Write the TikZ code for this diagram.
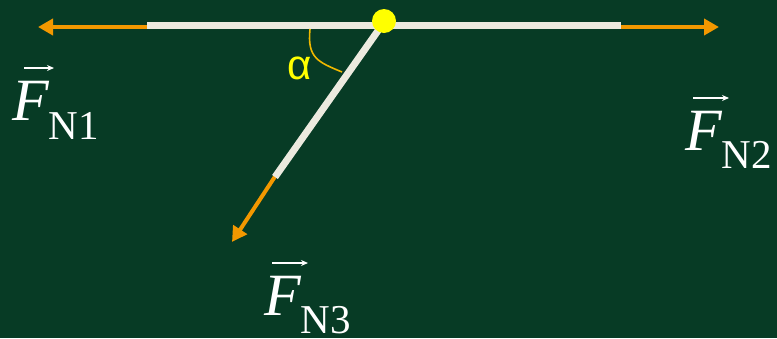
\documentclass[tikz,border=0pt]{standalone}
\usepackage{fontspec}
\setmainfont{Liberation Serif}
\newfontfamily\alphafont{Liberation Sans}
\usetikzlibrary{arrows.meta}
\definecolor{board}{HTML}{073B25}
\definecolor{rod}{HTML}{ECEADF}
\definecolor{force}{HTML}{F39800}
\definecolor{joint}{HTML}{FFFF00}
\definecolor{arcc}{HTML}{F0B800}
\tikzset{
  rodline/.style={draw=rod, line width=7pt},
  forcearrow/.style={draw=force, line width=4pt, -{Triangle[length=15pt,width=16pt]}},
  vecarrow/.style={draw=white, line width=1.3pt, -{Stealth[length=7pt,width=6pt]}},
  flabel/.style={anchor=base west, inner sep=0pt, text=white},
}
\newcommand{\forcelabel}[2]{{\fontsize{60}{60}\selectfont\itshape F}{\fontsize{41}{41}\selectfont\raisebox{-#1pt}{#2}}}
\begin{document}
\begin{tikzpicture}[x=1pt,y=-1pt]
\fill[board] (0,0) rectangle (777,338);
\useasboundingbox (0,0) rectangle (777,338);
% points
\coordinate (J) at (382,25);
\coordinate (L) at (147,25);
\coordinate (R) at (621,25);
\coordinate (D) at (275,177);
\coordinate (Lo) at (149,27);
\coordinate (Lt) at (38,27);
\coordinate (Ro) at (619,27);
\coordinate (Rt) at (719,27);
\coordinate (Do) at (276,175);
\coordinate (Dt) at (232,242);
% force arrows
\draw[forcearrow] (Lo) -- (Lt);
\draw[forcearrow] (Ro) -- (Rt);
\draw[forcearrow] (Do) -- (Dt);
% rods
\draw[rodline] (L) -- (J);
\draw[rodline] (J) -- (R);
\draw[rodline] (J) -- (D);
% joint
\node[circle, fill=joint, minimum size=24pt, inner sep=0pt] (jn) at (384,21) {};
% angle mark
\coordinate (A1) at (310,29);
\coordinate (A2) at (342,72);
\draw[arcc, line width=1.6pt] (A1) .. controls (307,58) and (318,62) .. (A2);
\node[text=joint, inner sep=0pt] (alpha) at (300,68) {\fontsize{42}{42}\selectfont\alphafont α};
% labels
\node[flabel] (f1) at (12,120) {\forcelabel{19}{N1}};
\node[flabel] (f2) at (685,150) {\forcelabel{18}{N2}};
\node[flabel] (f3) at (264,315) {\forcelabel{18}{N3}};
\coordinate (v1a) at (24,68); \coordinate (v1b) at (54,68);
\coordinate (v2a) at (693,98); \coordinate (v2b) at (729,98);
\coordinate (v3a) at (272,263); \coordinate (v3b) at (308,263);
\draw[vecarrow] (v1a) -- (v1b);
\draw[vecarrow] (v2a) -- (v2b);
\draw[vecarrow] (v3a) -- (v3b);
\end{tikzpicture}
\end{document}
